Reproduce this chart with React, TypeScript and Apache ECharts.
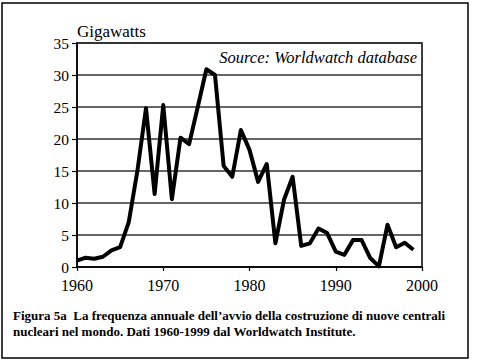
import React, { useEffect, useRef } from "react";
import * as echarts from "echarts";

const years: number[] = [
  1960, 1961, 1962, 1963, 1964, 1965, 1966, 1967, 1968, 1969,
  1970, 1971, 1972, 1973, 1974, 1975, 1976, 1977, 1978, 1979,
  1980, 1981, 1982, 1983, 1984, 1985, 1986, 1987, 1988, 1989,
  1990, 1991, 1992, 1993, 1994, 1995, 1996, 1997, 1998, 1999,
];
const gigawatts: number[] = [
  1.0, 1.45, 1.3, 1.6, 2.6, 3.1, 7.0, 15.0, 24.8, 11.4,
  25.3, 10.6, 20.2, 19.2, 25.0, 30.9, 30.0, 15.8, 14.1, 21.4,
  18.3, 13.3, 16.1, 3.7, 10.5, 14.1, 3.3, 3.7, 6.0, 5.3,
  2.4, 1.9, 4.2, 4.2, 1.4, 0.1, 6.6, 3.1, 3.8, 2.7,
];
const yAxisTitle = "Gigawatts";
const sourceNote = "Source: Worldwatch database";
const captionLines: string[] = [
  "Figura 5a  La frequenza annuale dell\u2019avvio della costruzione di nuove centrali",
  "nucleari nel mondo. Dati 1960-1999 dal Worldwatch Institute.",
];

export default function App() {
  const ref = useRef<HTMLDivElement>(null);
  useEffect(() => {
    if (!ref.current) return;
    const chart = echarts.init(ref.current, null, { renderer: "svg" });
    const serif = "Liberation Serif";
    chart.setOption({
      animation: false,
      backgroundColor: "#fff",
      textStyle: { fontFamily: serif },
      grid: {
        left: 77,
        top: 43,
        right: 55,
        bottom: 95,
        show: true,
        borderColor: "#000",
        borderWidth: 1.5,
        containLabel: false,
      },
      xAxis: {
        type: "value",
        min: 1960,
        max: 2000,
        interval: 10,
        axisLine: { show: true, onZero: false, lineStyle: { color: "#000", width: 1.5 } },
        axisTick: { show: true, inside: false, length: 4, lineStyle: { color: "#000", width: 1.2 } },
        axisLabel: {
          color: "#000",
          fontFamily: serif,
          fontSize: 16,
          margin: 10,
          formatter: (v: number) => String(v),
        },
        splitLine: { show: false },
      },
      yAxis: {
        type: "value",
        min: 0,
        max: 35,
        interval: 5,
        axisLine: { show: true, lineStyle: { color: "#000", width: 1.5 } },
        axisTick: { show: true, inside: false, length: 5, lineStyle: { color: "#000", width: 1.2 } },
        axisLabel: { color: "#000", fontFamily: serif, fontSize: 15.5, margin: 8 },
        splitLine: { show: true, lineStyle: { color: "#333", width: 1.5 } },
      },
      series: [
        {
          type: "line",
          data: years.map((y, i) => [y, gigawatts[i]]),
          symbol: "none",
          lineStyle: { color: "#000", width: 4, join: "round" },
        },
      ],
      graphic: [
        {
          type: "rect",
          shape: { x: 2, y: 3, width: 466, height: 355 },
          style: { fill: "none", stroke: "#000", lineWidth: 1.5 },
          silent: true,
        },
        {
          type: "text",
          x: 77,
          y: 31,
          style: {
            text: yAxisTitle,
            fontFamily: serif,
            fontSize: 17,
            fill: "#000",
            textVerticalAlign: "middle",
          },
        },
        {
          type: "text",
          x: 417,
          y: 57,
          style: {
            text: sourceNote,
            fontFamily: serif,
            fontStyle: "italic",
            fontSize: 16.5,
            fill: "#000",
            textAlign: "right",
            textVerticalAlign: "middle",
          },
        },
        ...captionLines.map((t, i) => ({
          type: "text",
          x: 13,
          y: 315 + i * 16,
          style: {
            text: t,
            fontFamily: serif,
            fontWeight: "bold",
            fontSize: 13,
            fill: "#000",
            textVerticalAlign: "middle",
          },
        })),
      ],
    });
    return () => chart.dispose();
  }, []);
  return (
    <div
      ref={ref}
      style={{ position: "fixed", left: 0, top: 0, width: 477, height: 362 }}
    />
  );
}
